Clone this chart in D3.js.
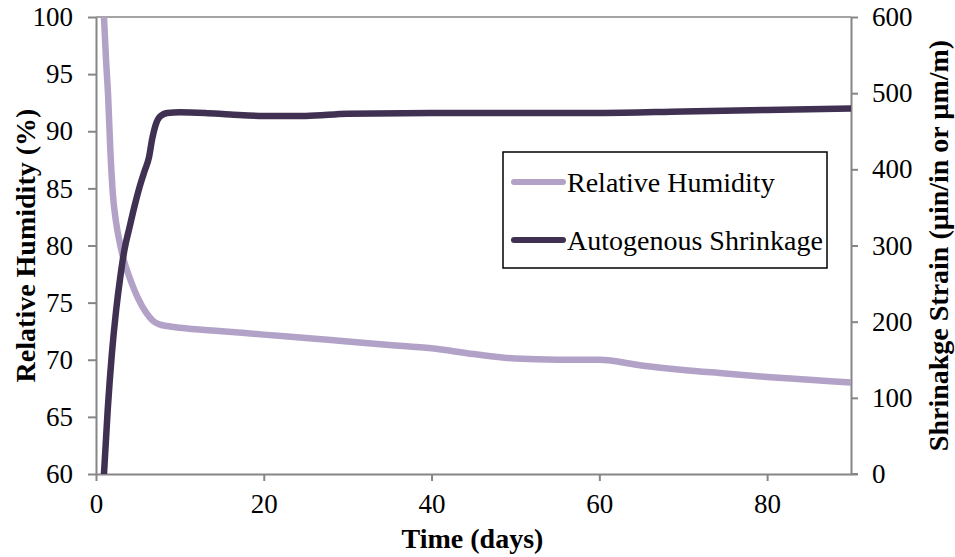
<!DOCTYPE html>
<html><head><meta charset="utf-8">
<script src="https://cdn.jsdelivr.net/npm/d3@7"></script>
<style>body{margin:0;background:#fff}svg text{font-family:"Liberation Serif","Times New Roman",serif;fill:#000}</style>
</head><body>
<svg id="c" width="955" height="557"></svg>
<script>
const rhDays = [0.95,1.2,1.45,1.7,2,2.4,2.9,3.4,4,5,6,6.8,7.5,8.5,10,15,20,25,30,35,40,45,50,55,60,65,70,75,80,85,90];
const rhValues = [100,96.2,93,88.5,84.6,82,80,78.5,77.2,75.4,74.1,73.4,73.1,72.95,72.8,72.5,72.2,71.9,71.6,71.3,71.0,70.5,70.1,70.0,70.0,69.5,69.1,68.8,68.5,68.25,68.0];
const shDays = [0.95,1.4,1.9,2.4,2.9,3.4,4,4.6,5.2,5.8,6.3,6.7,7.1,7.6,8.5,10,13,16,20,25,30,40,50,60,70,80,90];
const shValues = [0,85,159,215,259,295,324,352,377,398,415,440,458,469,474,475,474,472,470,470,473,474,474,474,476,478,480];
const xTicks = [0,20,40,60,80];
const rhTicks = [60,65,70,75,80,85,90,95,100];
const shTicks = [0,100,200,300,400,500,600];
const seriesNames = ["Relative Humidity","Autogenous Shrinkage"];
const colors = ["#b3a2c7","#403152"];

const FONT = '"Liberation Serif","Times New Roman",serif';
const svg = d3.select("#c");
const L=96,R=851,T=17,B=474;
const x = d3.scaleLinear().domain([0,90]).range([L,R]);
const yL = d3.scaleLinear().domain([60,100]).range([B,T]);
const yR = d3.scaleLinear().domain([0,600]).range([B,T]);
const axisColor="#868686";

svg.append("defs").append("clipPath").attr("id","clip").append("rect").attr("x",L).attr("y",T).attr("width",R-L).attr("height",B-T);

// top border
svg.append("line").attr("x1",L).attr("x2",R).attr("y1",T).attr("y2",T).attr("stroke",axisColor).attr("stroke-width",1.5);

function styleAxis(g){
  g.attr("font-family",null).attr("font-size",null);
  g.select(".domain").attr("stroke",axisColor).attr("stroke-width",2);
  g.selectAll(".tick line").attr("stroke",axisColor).attr("stroke-width",2);
  g.selectAll(".tick text").style("font-size","27px").style("font-family",FONT);
}
svg.append("g").attr("transform",`translate(0,${B})`)
  .call(d3.axisBottom(x).tickValues(xTicks).tickSize(7).tickSizeOuter(0).tickPadding(13))
  .call(styleAxis);
svg.append("g").attr("transform",`translate(${L},0)`)
  .call(d3.axisLeft(yL).tickValues(rhTicks).tickSize(8).tickSizeOuter(0).tickPadding(15))
  .call(styleAxis);
svg.append("g").attr("transform",`translate(${R},0)`)
  .call(d3.axisRight(yR).tickValues(shTicks).tickSize(7).tickSizeOuter(0).tickPadding(14))
  .call(styleAxis);
svg.append("line").attr("x1",R).attr("x2",R+7).attr("y1",B).attr("y2",B).attr("stroke",axisColor).attr("stroke-width",2);

const lineRH = d3.line().x((d,i)=>x(rhDays[i])).y(d=>yL(d)).curve(d3.curveMonotoneX);
const lineSH = d3.line().x((d,i)=>x(shDays[i])).y(d=>yR(d)).curve(d3.curveMonotoneX);
const plot = svg.append("g").attr("clip-path","url(#clip)");
plot.append("path").attr("d",lineRH(rhValues)).attr("fill","none").attr("stroke",colors[0]).attr("stroke-width",6.5).attr("stroke-linejoin","round").attr("stroke-linecap","round");
plot.append("path").attr("d",lineSH(shValues)).attr("fill","none").attr("stroke",colors[1]).attr("stroke-width",6.5).attr("stroke-linejoin","round").attr("stroke-linecap","round");

// titles
svg.append("text").attr("x",(L+R)/2-1).attr("y",548).attr("text-anchor","middle").style("font-size","28px").style("font-weight","bold").text("Time (days)");
svg.append("text").attr("transform",`translate(35,${(T+B)/2}) rotate(-90)`).attr("text-anchor","middle").style("font-size","28px").style("font-weight","bold").text("Relative Humidity  (%)");
svg.append("text").attr("transform",`translate(948,${(T+B)/2}) rotate(-90)`).attr("text-anchor","middle").style("font-size","28px").style("font-weight","bold").text("Shrinakge Strain (µin/in or µm/m)");

// legend
const lg = svg.append("g");
lg.append("rect").attr("x",503).attr("y",152).attr("width",324).attr("height",116).attr("fill","#fff").attr("stroke","#000").attr("stroke-width",1.5);
seriesNames.forEach((n,i)=>{
  const yy = 182 + i*58;
  lg.append("line").attr("x1",514).attr("x2",563).attr("y1",yy).attr("y2",yy).attr("stroke",colors[i]).attr("stroke-width",6).attr("stroke-linecap","round");
  lg.append("text").attr("x",567).attr("y",yy+10).style("font-size","28px").text(n);
});
</script>
</body></html>
